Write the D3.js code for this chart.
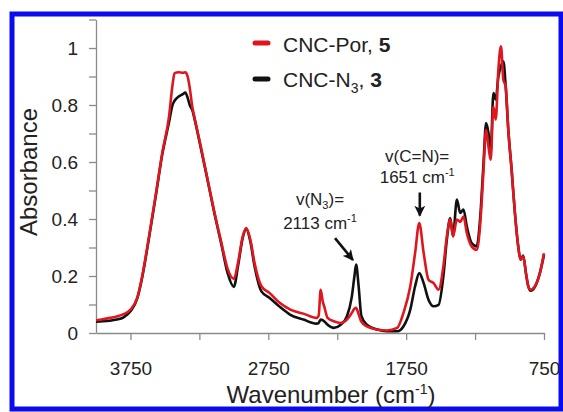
<!DOCTYPE html>
<html>
<head>
<meta charset="utf-8">
<script src="https://cdn.jsdelivr.net/npm/d3@7"></script>
<style>
  body { margin: 0; background: #fff; }
  svg { display: block; font-family: "Liberation Sans", Arial, sans-serif; }
</style>
</head>
<body>
<div id="chart"></div>
<script>
// Wavenumber grid (cm-1)
const wavenumbers = [4000, 3950, 3900, 3850, 3800, 3750, 3700, 3665, 3615, 3565, 3520, 3470, 3445, 3430,
  3400, 3370, 3352, 3335, 3320, 3300, 3287, 3240, 3190, 3140, 3090, 3045, 3000, 2970, 2935, 2910, 2880,
  2850, 2800, 2740, 2665, 2590, 2495, 2400, 2385, 2370, 2355, 2345, 2320, 2275, 2225, 2180, 2145, 2125,
  2113, 2095, 2075, 2035, 1960, 1890, 1815, 1770, 1720, 1685, 1655, 1623, 1588, 1551, 1515, 1480, 1455,
  1430, 1410, 1382, 1358, 1334, 1310, 1275, 1238, 1214, 1190, 1170, 1153, 1137, 1117, 1100, 1081, 1062,
  1045, 1028, 1009, 985, 961, 937, 920, 901, 881, 864, 847, 816, 780, 750];

// CNC-Por, 5 (red)
const porValues = [0.045, 0.048, 0.053, 0.058, 0.066, 0.082, 0.125, 0.199, 0.34, 0.49, 0.63, 0.76, 0.87, 0.912,
  0.915, 0.913, 0.915, 0.90, 0.86, 0.79, 0.76, 0.655, 0.538, 0.421, 0.316, 0.225, 0.19, 0.246, 0.34, 0.368, 0.327,
  0.246, 0.164, 0.14, 0.105, 0.082, 0.068, 0.053, 0.06, 0.152, 0.11, 0.094, 0.053, 0.041, 0.035, 0.047, 0.07, 0.085,
  0.088, 0.066, 0.04, 0.023, 0.012, 0.009, 0.018, 0.07, 0.164, 0.281, 0.386, 0.281, 0.187, 0.175, 0.152, 0.234, 0.339,
  0.398, 0.339, 0.398, 0.39, 0.409, 0.351, 0.304, 0.292, 0.374, 0.561, 0.713, 0.655, 0.608, 0.795, 0.749, 0.924, 1.006,
  0.889, 0.866, 0.713, 0.573, 0.421, 0.304, 0.257, 0.269, 0.21, 0.164, 0.152, 0.164, 0.21, 0.28];

// CNC-N3, 3 (black)
const n3Values = [0.040, 0.041, 0.043, 0.047, 0.055, 0.076, 0.122, 0.195, 0.335, 0.485, 0.625, 0.74, 0.80, 0.815,
  0.83, 0.838, 0.844, 0.825, 0.80, 0.78, 0.755, 0.65, 0.535, 0.418, 0.31, 0.21, 0.162, 0.234, 0.335, 0.365, 0.32,
  0.235, 0.146, 0.123, 0.091, 0.064, 0.047, 0.033, 0.035, 0.047, 0.045, 0.041, 0.029, 0.018, 0.029, 0.058, 0.125, 0.20,
  0.24, 0.165, 0.06, 0.029, 0.012, 0.006, 0.006, 0.023, 0.082, 0.164, 0.21, 0.175, 0.117, 0.094, 0.099, 0.199, 0.327,
  0.403, 0.34, 0.468, 0.421, 0.433, 0.374, 0.316, 0.304, 0.398, 0.585, 0.737, 0.702, 0.632, 0.842, 0.819, 0.90, 0.936,
  0.953, 0.866, 0.713, 0.573, 0.421, 0.304, 0.257, 0.272, 0.21, 0.164, 0.148, 0.162, 0.21, 0.275];

const xTicks = [3750, 3250, 2750, 2250, 1750, 1250, 750];
const xTickLabels = [3750, 2750, 1750, 750];
const yTicks = [0, 0.1, 0.2, 0.3, 0.4, 0.5, 0.6, 0.7, 0.8, 0.9, 1, 1.1];
const yTickLabels = [0, 0.2, 0.4, 0.6, 0.8, 1];

const width = 563, height = 412;

const svg = d3.select("#chart").append("svg")
    .attr("width", width)
    .attr("height", height);

// blue frame round the figure
svg.append("rect")
    .attr("x", 12).attr("y", 14)
    .attr("width", 549).attr("height", 395)
    .attr("fill", "none")
    .attr("stroke", "#0b0bf2")
    .attr("stroke-width", 5);

const x = d3.scaleLinear().domain([4000, 750]).range([96, 544]);
const y = d3.scaleLinear().domain([0, 1.1]).range([333, 19.5]);

// axes
const yAxis = svg.append("g")
    .attr("transform", `translate(${x(4000)},0)`)
    .call(d3.axisLeft(y)
        .tickValues(yTicks)
        .tickSize(7)
        .tickSizeOuter(0)
        .tickPadding(11)
        .tickFormat(d => yTickLabels.some(v => Math.abs(v - d) < 1e-6) ? d3.format("")(+d.toFixed(1)) : ""));

const xAxis = svg.append("g")
    .attr("transform", `translate(0,${y(0)})`)
    .call(d3.axisBottom(x)
        .tickValues(xTicks)
        .tickSize(7)
        .tickSizeOuter(0)
        .tickPadding(22)
        .tickFormat(d => xTickLabels.includes(d) ? d : ""));

[xAxis, yAxis].forEach(g => {
    g.select(".domain").attr("stroke", "#8a8a8a").attr("stroke-width", 1.3);
    g.selectAll(".tick line").attr("stroke", "#8a8a8a").attr("stroke-width", 1.3);
    g.selectAll(".tick text")
        .attr("fill", "#222")
        .style("font-family", "'Liberation Sans', Arial, sans-serif")
        .style("font-size", "19px");
});

// axis titles
svg.append("text")
    .attr("x", 331).attr("y", 403)
    .attr("text-anchor", "middle")
    .attr("fill", "#222")
    .style("font-size", "24px")
    .call(t => {
        t.append("tspan").text("Wavenumber (cm");
        t.append("tspan").attr("dy", -9).style("font-size", "14px").text("-1");
        t.append("tspan").attr("dy", 9).text(")");
    });

svg.append("text")
    .attr("transform", "translate(37,172) rotate(-90)")
    .attr("text-anchor", "middle")
    .attr("fill", "#222")
    .style("font-size", "24px")
    .text("Absorbance");

// spectra
const rows = wavenumbers.map((w, i) => ({ w: w, por: porValues[i], n3: n3Values[i] }));

const series = [
    { key: "n3", color: "#111111" },
    { key: "por", color: "#e0161f" }
];

series.forEach(s => {
    const line = d3.line()
        .x(d => x(d.w))
        .y(d => y(d[s.key]))
        .curve(d3.curveMonotoneX);
    svg.append("path")
        .datum(rows)
        .attr("fill", "none")
        .attr("stroke", s.color)
        .attr("stroke-width", 2.6)
        .attr("stroke-linejoin", "round")
        .attr("d", line);
});

// legend
const legend = svg.append("g").style("font-size", "21px").attr("fill", "#222");
legend.append("line")
    .attr("x1", 255).attr("x2", 268).attr("y1", 43).attr("y2", 43)
    .attr("stroke", "#e0161f").attr("stroke-width", 5).attr("stroke-linecap", "round");
legend.append("text").attr("x", 283).attr("y", 52)
    .call(t => {
        t.append("tspan").text("CNC-Por, ");
        t.append("tspan").style("font-weight", "bold").text("5");
    });
legend.append("line")
    .attr("x1", 255).attr("x2", 268).attr("y1", 79).attr("y2", 79)
    .attr("stroke", "#111").attr("stroke-width", 5).attr("stroke-linecap", "round");
legend.append("text").attr("x", 283).attr("y", 87)
    .call(t => {
        t.append("tspan").text("CNC-N");
        t.append("tspan").attr("dy", 6).style("font-size", "14px").text("3");
        t.append("tspan").attr("dy", -6).text(", ");
        t.append("tspan").style("font-weight", "bold").text("3");
    });

// annotations with arrows (positions in data units)
svg.append("defs").append("marker")
    .attr("id", "arrow")
    .attr("viewBox", "0 0 10 10")
    .attr("refX", 9).attr("refY", 5)
    .attr("markerWidth", 4.2).attr("markerHeight", 4.2)
    .attr("orient", "auto")
    .append("path")
    .attr("d", "M0,0 L10,5 L0,10 L2.5,5 Z")
    .attr("fill", "#111");

const notes = [
    { top: "v(N", sub: "3", rest: ")=", num: "2113", tx: 2375, ty1: 0.449, ty2: 0.365, from: [2266, 0.333], to: [2136, 0.256] },
    { top: "v(C=N)=", sub: "", rest: "", num: "1651", tx: 1670, ty1: 0.600, ty2: 0.526, from: [1651, 0.493], to: [1651, 0.412] }
];

notes.forEach(n => {
    const g = svg.append("g").attr("fill", "#222").style("font-size", "17px");
    g.append("text")
        .attr("x", x(n.tx)).attr("y", y(n.ty1))
        .attr("text-anchor", "middle")
        .call(t => {
            t.append("tspan").text(n.top);
            if (n.sub) {
                t.append("tspan").attr("dy", 4).style("font-size", "11px").text(n.sub);
                t.append("tspan").attr("dy", -4).text(n.rest);
            }
        });
    g.append("text")
        .attr("x", x(n.tx)).attr("y", y(n.ty2))
        .attr("text-anchor", "middle")
        .call(t => {
            t.append("tspan").text(n.num + " cm");
            t.append("tspan").attr("dy", -7).style("font-size", "11px").text("-1");
        });
    svg.append("line")
        .attr("x1", x(n.from[0])).attr("y1", y(n.from[1]))
        .attr("x2", x(n.to[0])).attr("y2", y(n.to[1]))
        .attr("stroke", "#111")
        .attr("stroke-width", 2.6)
        .attr("marker-end", "url(#arrow)");
});
</script>
</body>
</html>
